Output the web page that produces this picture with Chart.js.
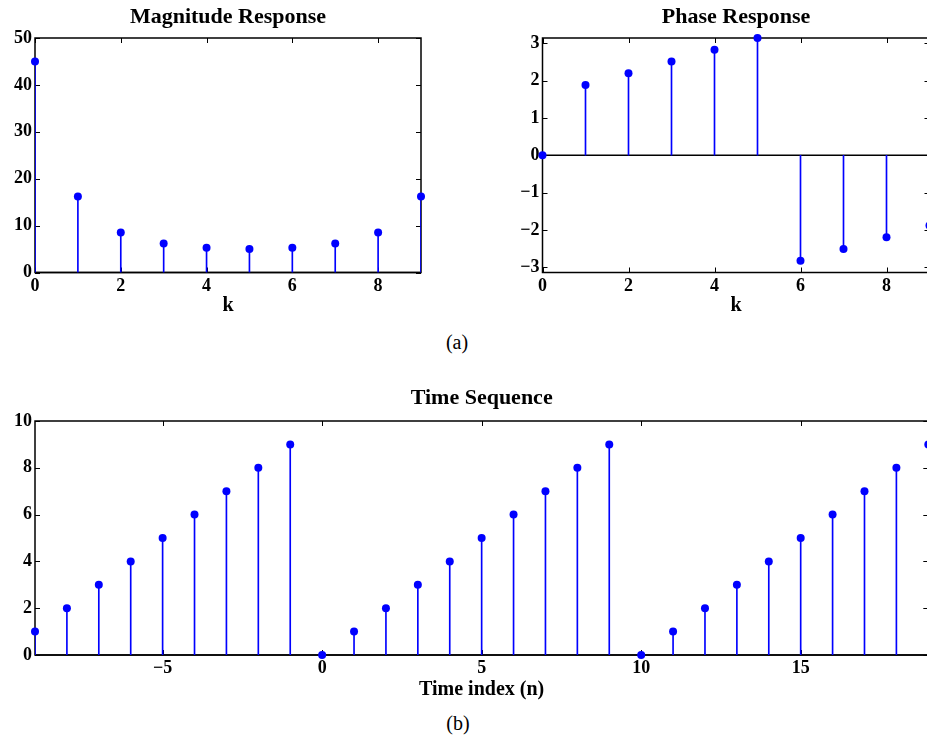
<!DOCTYPE html>
<html>
<head>
<meta charset="utf-8">
<script src="https://cdn.jsdelivr.net/npm/chart.js@4.4.1/dist/chart.umd.min.js"></script>
<style>
  html, body { margin: 0; padding: 0; background: #fff; overflow: hidden; width: 927px; height: 739px; }
  canvas { position: absolute; }
  .cap { position: absolute; font: 20px 'Liberation Serif', 'Times New Roman', serif; color: #000; transform: translate(-50%, -50%); }
</style>
</head>
<body>
<canvas id="mag" style="left:0;top:0"></canvas>
<canvas id="phase" style="left:500px;top:0"></canvas>
<canvas id="seq" style="left:0;top:370px"></canvas>
<div class="cap" style="left:457px;top:342px">(a)</div>
<div class="cap" style="left:458px;top:723px">(b)</div>
<script>
// DFT of the sequence 0..9
const kIndex = [0, 1, 2, 3, 4, 5, 6, 7, 8, 9];
const magnitude = [45, 16.18, 8.51, 6.18, 5.26, 5.0, 5.26, 6.18, 8.51, 16.18];
const phase = [0, 1.885, 2.199, 2.513, 2.827, 3.1416, -2.827, -2.513, -2.199, -1.885];

// periodic time sequence
const timeIndex = [-9, -8, -7, -6, -5, -4, -3, -2, -1, 0, 1, 2, 3, 4, 5, 6, 7, 8, 9,
  10, 11, 12, 13, 14, 15, 16, 17, 18, 19];
const timeValues = [1, 2, 3, 4, 5, 6, 7, 8, 9, 0, 1, 2, 3, 4, 5, 6, 7, 8, 9,
  0, 1, 2, 3, 4, 5, 6, 7, 8, 9];

const kTicks = [0, 2, 4, 6, 8];
const magTicks = [0, 10, 20, 30, 40, 50];
const phaseTicks = [-3, -2, -1, 0, 1, 2, 3];
const timeTicks = [-5, 0, 5, 10, 15];
const seqTicks = [0, 2, 4, 6, 8, 10];

const FONT = "'Liberation Serif', 'Times New Roman', serif";
const BLUE = '#0000ff';

// matlab style box with inward ticks and stem baseline
const boxPlugin = {
  id: 'box',
  beforeDatasetsDraw(chart) {
    const { ctx, chartArea: a, scales: { x, y } } = chart;
    const len = 5;
    ctx.save();
    ctx.strokeStyle = '#000';
    ctx.lineWidth = 1;
    ctx.beginPath();
    x.ticks.forEach(t => {
      const px = Math.round(x.getPixelForValue(t.value)) + 0.5;
      ctx.moveTo(px, a.bottom); ctx.lineTo(px, a.bottom - len);
      ctx.moveTo(px, a.top); ctx.lineTo(px, a.top + len);
    });
    y.ticks.forEach(t => {
      const py = Math.round(y.getPixelForValue(t.value)) + 0.5;
      ctx.moveTo(a.left, py); ctx.lineTo(a.left + len, py);
      ctx.moveTo(a.right, py); ctx.lineTo(a.right - len, py);
    });
    ctx.stroke();
    ctx.lineWidth = 1.5;
    ctx.strokeRect(a.left, a.top, a.right - a.left, a.bottom - a.top);
    const y0 = y.getPixelForValue(0);
    ctx.beginPath();
    ctx.moveTo(a.left, y0); ctx.lineTo(a.right, y0);
    ctx.stroke();
    ctx.restore();
  }
};

function fixTicks(list) {
  return scale => { scale.ticks = list.map(v => ({ value: v })); };
}
const minus = v => String(v).replace('-', '\u2212');

function stemChart(id, w, h, xs, ys, o) {
  const canvas = document.getElementById(id);
  canvas.width = w; canvas.height = h;
  canvas.style.width = w + 'px'; canvas.style.height = h + 'px';
  const pts = xs.map((x, i) => ({ x: x, y: ys[i] }));
  return new Chart(canvas, {
    type: 'scatter',
    data: {
      datasets: [
        { type: 'scatter', data: pts, backgroundColor: BLUE, borderWidth: 0, pointRadius: 4, clip: false, order: 0 },
        { type: 'bar', data: pts, backgroundColor: BLUE, barThickness: 1, grouped: false, order: 1 },
      ],
    },
    options: {
      responsive: false,
      animation: false,
      devicePixelRatio: 1,
      layout: { padding: { left: o.padLeft, right: o.padRight, top: 0, bottom: 0 } },
      plugins: {
        legend: { display: false },
        tooltip: { enabled: false },
        title: {
          display: true, text: o.title, fullSize: false, color: '#000',
          font: { family: FONT, size: 22, weight: 'bold' },
          padding: { top: o.titleTop, bottom: o.titleBottom },
        },
      },
      scales: {
        x: {
          type: 'linear', min: o.xMin, max: o.xMax, offset: false,
          afterBuildTicks: fixTicks(o.xTicks),
          afterFit: s => { s.height = o.xHeight; },
          grid: { display: false, drawTicks: false, offset: false },
          border: { display: false },
          ticks: { color: '#000', autoSkip: false, maxRotation: 0, padding: 3, callback: minus,
            font: { family: FONT, size: 18, weight: 'bold' } },
          title: { display: true, text: o.xLabel, color: '#000', padding: { top: 0, bottom: o.xLabelBottom },
            font: { family: FONT, size: 20, weight: 'bold' } },
        },
        y: {
          type: 'linear', min: o.yMin, max: o.yMax,
          afterBuildTicks: fixTicks(o.yTicks),
          afterFit: s => { s.width = o.yWidth; },
          grid: { display: false, drawTicks: false },
          border: { display: false },
          ticks: { color: '#000', autoSkip: false, padding: 3, callback: minus,
            font: { family: FONT, size: 18, weight: 'bold' } },
        },
      },
    },
    plugins: [boxPlugin],
  });
}

stemChart('mag', 440, 320, kIndex, magnitude, {
  title: 'Magnitude Response', xLabel: 'k',
  xMin: 0, xMax: 9, yMin: 0, yMax: 50, xTicks: kTicks, yTicks: magTicks,
  padLeft: 0, padRight: 19, yWidth: 35, xHeight: 47.5, xLabelBottom: 2,
  titleTop: 4, titleBottom: 7.6,
});

stemChart('phase', 440, 320, kIndex, phase, {
  title: 'Phase Response', xLabel: 'k',
  xMin: 0, xMax: 9, yMin: -Math.PI, yMax: Math.PI, xTicks: kTicks, yTicks: phaseTicks,
  padLeft: 0, padRight: 10.5, yWidth: 42.5, xHeight: 47.5, xLabelBottom: 2,
  titleTop: 4, titleBottom: 7.6,
});

stemChart('seq', 950, 340, timeIndex, timeValues, {
  title: 'Time Sequence', xLabel: 'Time index (n)',
  xMin: -9, xMax: 19, yMin: 0, yMax: 10, xTicks: timeTicks, yTicks: seqTicks,
  padLeft: 0, padRight: 21.7, yWidth: 35, xHeight: 55, xLabelBottom: 8,
  titleTop: 15, titleBottom: 9.6,
});
</script>
</body>
</html>
